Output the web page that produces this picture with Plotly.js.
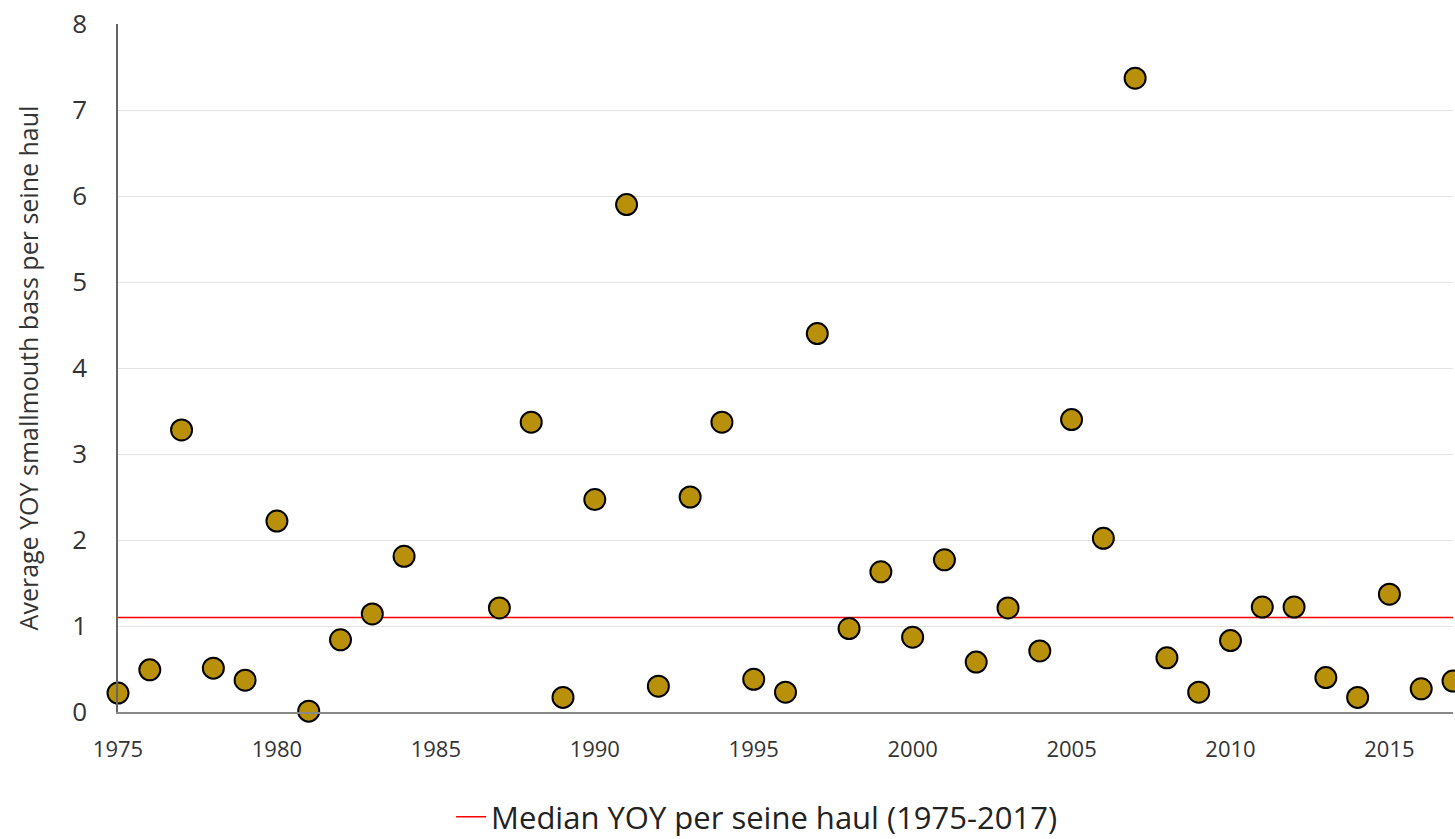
<!DOCTYPE html>
<html><head><meta charset="utf-8">
<script src="https://cdn.plot.ly/plotly-3.0.1.min.js"></script>
<style>body{margin:0;padding:0;background:#fff}#chart{width:1455px;height:839px}</style>
</head><body><div id="chart"></div>
<script>
const years = [1975,1976,1977,1978,1979,1980,1981,1982,1983,1984,1987,1988,1989,1990,1991,1992,1993,1994,1995,1996,1997,1998,1999,2000,2001,2002,2003,2004,2005,2006,2007,2008,2009,2010,2011,2012,2013,2014,2015,2016,2017];
const yoy = [0.22,0.49,3.28,0.51,0.37,2.22,0.01,0.84,1.14,1.81,1.21,3.37,0.17,2.47,5.90,0.30,2.50,3.37,0.38,0.23,4.40,0.97,1.63,0.87,1.77,0.58,1.21,0.71,3.40,2.02,7.37,0.63,0.23,0.83,1.22,1.22,0.40,0.17,1.37,0.27,0.36];
const medianYears = [1975, 2017];
const medianValue = [1.10, 1.10];
const xTickVals = [1975,1980,1985,1990,1995,2000,2005,2010,2015];
const medianName = 'Median YOY per seine haul (1975-2017)';
const yTitle = 'Average YOY smallmouth bass per seine haul';
const font = 'Open Sans, Liberation Sans, sans-serif';

const traces = [
  {x: medianYears, y: medianValue, mode: 'lines', name: medianName,
   line: {color: '#FF0000', width: 1.5}, showlegend: true, cliponaxis: false},
  {x: years, y: yoy, mode: 'markers', name: 'YOY', showlegend: false, cliponaxis: false,
   marker: {size: 21, color: '#B8900A', line: {color: '#000000', width: 2}}}
];
const layout = {
  width: 1455, height: 839,
  margin: {l: 118, r: 2, t: 24, b: 127},
  paper_bgcolor: '#fff', plot_bgcolor: '#fff',
  font: {family: font, color: '#333'},
  xaxis: {range: [1975, 2017], tickvals: xTickVals,
          showgrid: false, zeroline: false, showline: true, linecolor: '#888', linewidth: 1.5,
          ticks: '', tickfont: {size: 22, color: '#333'}, ticklabelstandoff: 17},
  yaxis: {range: [0, 8], dtick: 1, showgrid: true, gridcolor: '#e3e3e3', gridwidth: 1,
          zeroline: false, showline: true, linecolor: '#666', linewidth: 1.5, ticks: '',
          tickfont: {size: 26, color: '#333'}, ticklabelstandoff: 24,
          title: {text: yTitle, font: {size: 25, color: '#333'}, standoff: 26}},
  legend: {orientation: 'h', x: 0.52, xanchor: 'center', xref: 'container',
           y: 0.026, yanchor: 'middle', yref: 'container',
           font: {size: 31, color: '#222'}},
  showlegend: true
};
Plotly.newPlot('chart', traces, layout, {displayModeBar: false});
</script></body></html>
